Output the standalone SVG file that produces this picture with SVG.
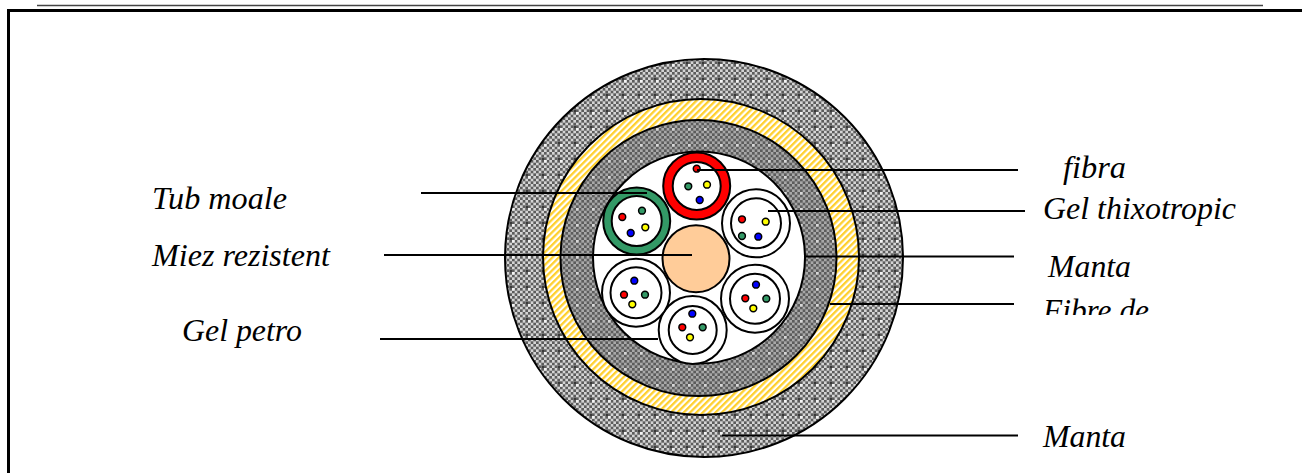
<svg xmlns="http://www.w3.org/2000/svg" width="1302" height="473" viewBox="0 0 1302 473">
<style>
.t{font-family:"Liberation Serif","Times New Roman",serif;font-style:italic;font-size:31px;fill:#000}
.c{stroke:#000;stroke-width:2}
.l{stroke:#000;stroke-width:2;fill:none}
.tube{fill:#fff;stroke:#000;stroke-width:2}
.r{fill:#f00;stroke:#000;stroke-width:1.500}
.g{fill:#339966;stroke:#000;stroke-width:1.500}
.y{fill:#ff0;stroke:#000;stroke-width:1.500}
.b{fill:#00f;stroke:#000;stroke-width:1.500}
</style>
<defs>
<pattern id="c1" width="5.333" height="5.333" patternUnits="userSpaceOnUse"><rect width="5.333" height="5.333" fill="#5c5c5c"/><rect width="2.667" height="2.667" fill="#d4d4d4"/><rect x="2.667" y="2.667" width="2.667" height="2.667" fill="#d4d4d4"/></pattern>
<pattern id="chk" width="16" height="16" patternUnits="userSpaceOnUse"><rect width="16" height="16" fill="url(#c1)"/><rect x="0" y="0" width="2.600" height="2.600" fill="#f4f4f4"/><rect x="13.500" y="13.500" width="2.500" height="2.500" fill="#3a3a3a"/></pattern>
<pattern id="c2" width="5.333" height="5.333" patternUnits="userSpaceOnUse"><rect width="5.333" height="5.333" fill="#5c5c5c"/><rect width="2.667" height="2.667" fill="#a8a8a8"/><rect x="2.667" y="2.667" width="2.667" height="2.667" fill="#a8a8a8"/></pattern>
<pattern id="dark" width="16" height="16" patternUnits="userSpaceOnUse"><rect width="16" height="16" fill="url(#c2)"/><rect x="0" y="0" width="2.600" height="2.600" fill="#d8d8d8"/></pattern>
<pattern id="hat" width="4.500" height="4.500" patternUnits="userSpaceOnUse" patternTransform="rotate(-45)"><rect width="4.500" height="4.500" fill="#fff"/><rect width="4.500" height="2.300" fill="#ffd02e"/></pattern>
<clipPath id="cp"><rect x="1000" y="280" width="300" height="35"/></clipPath>
</defs>
<rect width="1302" height="473" fill="#fff"/>
<line x1="37" y1="5.500" x2="1263" y2="5.500" stroke="#444" stroke-width="1.500"/>
<path d="M8.500 473V10.500H1302" fill="none" stroke="#000" stroke-width="3"/>
<g id="cable">
<circle class="c" cx="704" cy="258" r="199" fill="url(#chk)"/>
<circle class="c" cx="701" cy="257" r="158" fill="url(#hat)"/>
<circle class="c" cx="698.500" cy="258" r="138" fill="url(#dark)"/>
<circle class="c" cx="699" cy="257.500" r="106" fill="#fff"/>
</g>
<g id="core"><circle class="c" cx="696" cy="258.700" r="33.500" fill="#ffcc99"/></g>
<g id="tube-red"><circle class="c" cx="696.700" cy="186" r="33.500" fill="#f00"/><circle class="tube" cx="696.700" cy="186" r="24"/>
<circle class="r" cx="696.700" cy="168.700" r="3.400"/><circle class="g" cx="688.300" cy="186.300" r="3.400"/><circle class="y" cx="707" cy="184.700" r="3.400"/><circle class="b" cx="699.700" cy="200" r="3.400"/></g>
<g id="tube-green"><circle class="c" cx="636.700" cy="221" r="33.500" fill="#339966"/><circle class="tube" cx="636.700" cy="221" r="25"/>
<circle class="r" cx="622.300" cy="217" r="3.400"/><circle class="g" cx="642" cy="210.700" r="3.400"/><circle class="y" cx="645.300" cy="227.300" r="3.400"/><circle class="b" cx="630.700" cy="233" r="3.400"/></g>
<g id="tube-ur"><circle class="tube" cx="756" cy="223.300" r="34"/><circle class="tube" cx="756" cy="223.300" r="25"/>
<circle class="r" cx="742" cy="219.300" r="3.400"/><circle class="y" cx="765.700" cy="221.700" r="3.400"/><circle class="g" cx="742" cy="236" r="3.400"/><circle class="b" cx="758.300" cy="236.700" r="3.400"/></g>
<g id="tube-lr"><circle class="tube" cx="755" cy="298.700" r="34"/><circle class="tube" cx="755" cy="298.700" r="25"/>
<circle class="b" cx="756" cy="284.700" r="3.400"/><circle class="r" cx="745.300" cy="298.300" r="3.400"/><circle class="g" cx="766.300" cy="298.700" r="3.400"/><circle class="y" cx="753.300" cy="308.300" r="3.400"/></g>
<g id="tube-b"><circle class="tube" cx="692.700" cy="330" r="34"/><circle class="tube" cx="692.700" cy="330" r="24"/>
<circle class="b" cx="692.300" cy="313.700" r="3.400"/><circle class="r" cx="682.300" cy="327.300" r="3.400"/><circle class="g" cx="702.700" cy="327.300" r="3.400"/><circle class="y" cx="690" cy="337.300" r="3.400"/></g>
<g id="tube-ll"><circle class="tube" cx="636" cy="292.700" r="34"/><circle class="tube" cx="636" cy="292.700" r="25.500"/>
<circle class="b" cx="634.300" cy="280.700" r="3.400"/><circle class="r" cx="624" cy="294.700" r="3.400"/><circle class="g" cx="645" cy="294.700" r="3.400"/><circle class="y" cx="632.300" cy="304.300" r="3.400"/></g>
<g id="connectors">
<line class="l" x1="697" y1="170" x2="1018" y2="170"/>
<line class="l" x1="768" y1="211" x2="1025" y2="211"/>
<line class="l" x1="806" y1="256.500" x2="1014" y2="256.500"/>
<line class="l" x1="830" y1="304" x2="1014" y2="304"/>
<line class="l" x1="722" y1="435.500" x2="1018" y2="435.500"/>
<line class="l" x1="421" y1="193" x2="647" y2="193"/>
<line class="l" x1="384" y1="255" x2="692" y2="255"/>
<line class="l" x1="380" y1="339" x2="658" y2="339"/>
</g>
<g id="labels">
<text class="t" x="152" y="209" textLength="135" lengthAdjust="spacingAndGlyphs">Tub moale</text>
<text class="t" x="152" y="266" textLength="178" lengthAdjust="spacingAndGlyphs">Miez rezistent</text>
<text class="t" x="182" y="341" textLength="120" lengthAdjust="spacingAndGlyphs">Gel petro</text>
<text class="t" x="1063" y="178" textLength="63" lengthAdjust="spacingAndGlyphs">fibra</text>
<text class="t" x="1043" y="219" textLength="193" lengthAdjust="spacingAndGlyphs">Gel thixotropic</text>
<text class="t" x="1048" y="277" textLength="83" lengthAdjust="spacingAndGlyphs">Manta</text>
<text class="t" x="1043" y="321" textLength="106" lengthAdjust="spacingAndGlyphs" clip-path="url(#cp)">Fibre de</text>
<text class="t" x="1043" y="447" textLength="83" lengthAdjust="spacingAndGlyphs">Manta</text>
</g>
</svg>
